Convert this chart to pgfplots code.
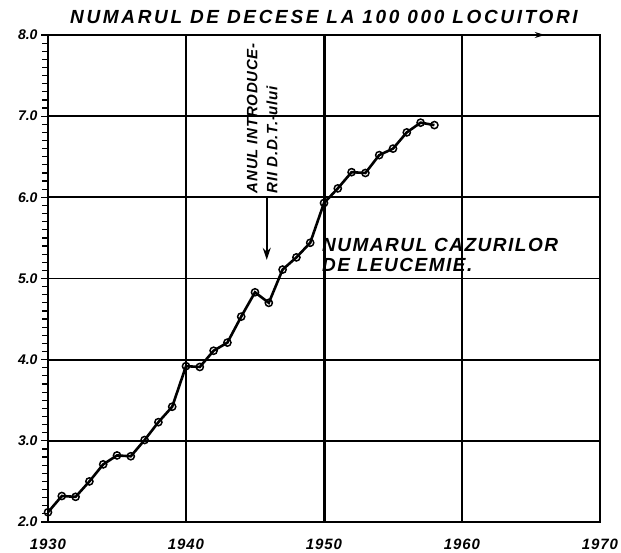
\documentclass[border=0pt]{standalone}
\usepackage{pgfplots}
\pgfplotsset{compat=1.18}
\usepackage{fontspec}
\setmainfont{Liberation Sans}
\usetikzlibrary{arrows.meta}
\pgfplotstableread{
year val
1930 2.12
1931 2.32
1932 2.31
1933 2.50
1934 2.71
1935 2.82
1936 2.81
1937 3.01
1938 3.23
1939 3.42
1940 3.92
1941 3.91
1942 4.11
1943 4.21
1944 4.53
1945 4.83
1946 4.70
1947 5.11
1948 5.26
1949 5.44
1950 5.93
1951 6.11
1952 6.31
1953 6.30
1954 6.52
1955 6.60
1956 6.80
1957 6.92
1958 6.89
}\leuk
\begin{document}
\begin{tikzpicture}
\begin{axis}[
  scale only axis, width=552pt, height=487pt,
  xmin=1930, xmax=1970, ymin=2, ymax=8,
  xtick={1930,1940,1950,1960,1970},
  xticklabels={1930,1940,1950,1960,1970},
  ytick={2,3,4,5,6,7,8},
  yticklabels={2.0,3.0,4.0,5.0,6.0,7.0,8.0},
  minor y tick num=9,
  tick align=outside,
  tick pos=left,
  xtick style={draw=none},
  ytick style={line width=1.2pt, black},
  major tick length=7pt, minor tick length=6pt,
  grid=major, major grid style={black, line width=1.8pt},
  axis line style={line width=2.4pt},
  y tick label style={font=\fontsize{14}{15}\selectfont\bfseries\itshape},
  x tick label style={font=\fontsize{15}{16}\selectfont\bfseries\itshape\addfontfeature{LetterSpace=6}, yshift=-6pt},
  title={NUMARUL DE DECESE LA 100 000 LOCUITORI},
  title style={font=\fontsize{19}{20}\selectfont\bfseries\itshape\addfontfeature{LetterSpace=14},
    inner sep=0pt, anchor=south, yshift=5pt},
  clip=false,
]
\coordinate (SW) at (rel axis cs:0,0);
\coordinate (NE) at (rel axis cs:1,1);
\draw[line width=3pt] (axis cs:1950,2) -- (axis cs:1950,8);
\draw[line width=2.4pt] (axis cs:1940,2) -- (axis cs:1940,8);
\addplot[black, line width=2.6pt, mark=o, mark size=3.6pt,
  mark options={fill=white, line width=1.5pt}] table[x=year, y=val] {\leuk};
\node[rotate=90, anchor=north west, align=left, inner sep=0pt,
  font=\fontsize{15}{20}\selectfont\bfseries\itshape\addfontfeature{LetterSpace=5}]
  at (axis cs:1944.4,6.05) {ANUL INTRODUCE-\\RII D.D.T.-ului};
\draw[-{Stealth[length=12pt, width=8pt]}, line width=1.6pt]
  (axis cs:1945.85,5.99) -- (axis cs:1945.85,5.23);
\node[anchor=north west, align=left, inner sep=0pt,
  font=\fontsize{19}{20}\selectfont\bfseries\itshape\addfontfeature{LetterSpace=8}]
  at (axis cs:1949.85,5.50) {NUMARUL CAZURILOR\\DE LEUCEMIE.};
\draw[-{Stealth[length=10pt, width=6pt]}, line width=1.5pt]
  (axis cs:1965.2,8) -- (axis cs:1966,8);
\end{axis}
\pgfresetboundingbox
\path[use as bounding box] ([shift={(-48pt,-31pt)}]SW) rectangle ([shift={(21pt,35pt)}]NE);
\end{tikzpicture}
\end{document}
